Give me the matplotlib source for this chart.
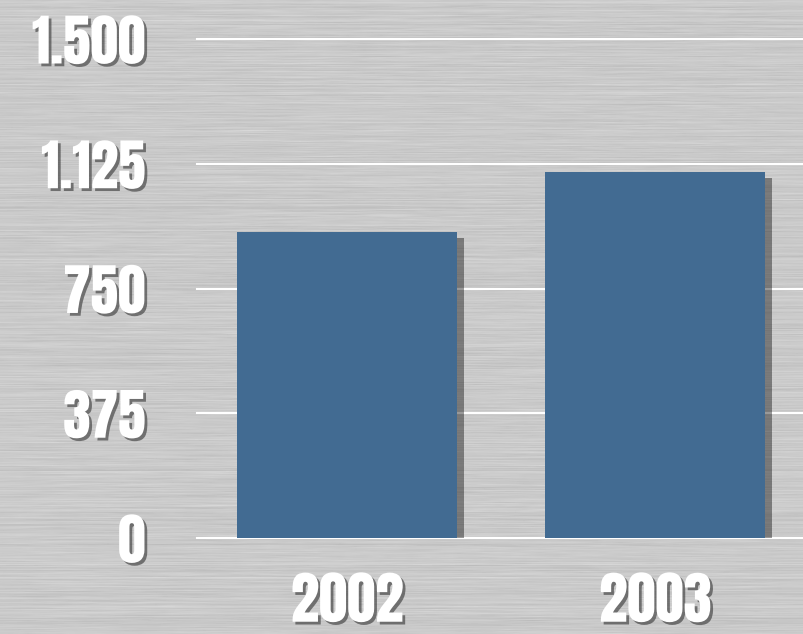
import matplotlib
matplotlib.use("Agg")
import matplotlib.pyplot as plt
import matplotlib.patheffects as pe
import numpy as np

years = ["2002", "2003"]
values = [920, 1100]
yticks = [0, 375, 750, 1125, 1500]
ytick_labels = ["0", "375", "750", "1.125", "1.500"]

plt.rcParams['font.family'] = ['Anton', 'Oswald', 'DejaVu Sans']

fig = plt.figure(figsize=(8.04, 6.34), dpi=100)

# brushed metal background
rng = np.random.default_rng(3)
h, w = 634, 804
streaks = rng.normal(0, 1, (h, w // 8 + 1))
streaks = np.repeat(streaks, 8, axis=1)[:, :w]
k = np.ones(41) / 41
streaks = np.apply_along_axis(lambda r: np.convolve(r, k, mode="same"), 1, streaks)
rows = rng.normal(0, 1, (h, 1))
tex = 0.79 + 0.025 * streaks + 0.012 * rows
tex = np.clip(tex, 0, 1)
fig.figimage(tex, cmap="gray", vmin=0, vmax=1, zorder=-10)

ax = fig.add_axes([0.245, 0.1514, 0.755, 0.7871])
ax.patch.set_alpha(0)
ax.set_ylim(0, 1500)
ax.set_xlim(-0.487, 1.482)

shadow = [pe.withSimplePatchShadow(offset=(5, -4), shadow_rgbFace="k", alpha=0.4)]
bars = ax.bar(range(len(years)), values, width=0.714, color="#426b92", zorder=3)
for b in bars:
    b.set_path_effects(shadow)

for y in yticks:
    ax.axhline(y, color="white", lw=1.5, zorder=1, clip_on=False)

for s in ax.spines.values():
    s.set_visible(False)
ax.tick_params(length=0)

txt_fx = [pe.withSimplePatchShadow(offset=(2, -2), shadow_rgbFace="#333333", alpha=0.6)]
ax.set_yticks(yticks)
ax.set_yticklabels(ytick_labels, fontsize=40, color="white")
ax.tick_params(axis="y", pad=37)
ax.set_xticks(range(len(years)))
ax.set_xticklabels(years, fontsize=41, color="white")
ax.tick_params(axis="x", pad=25)
for t in ax.get_yticklabels() + ax.get_xticklabels():
    t.set_path_effects(txt_fx)

fig.savefig("out.png", dpi=100)
